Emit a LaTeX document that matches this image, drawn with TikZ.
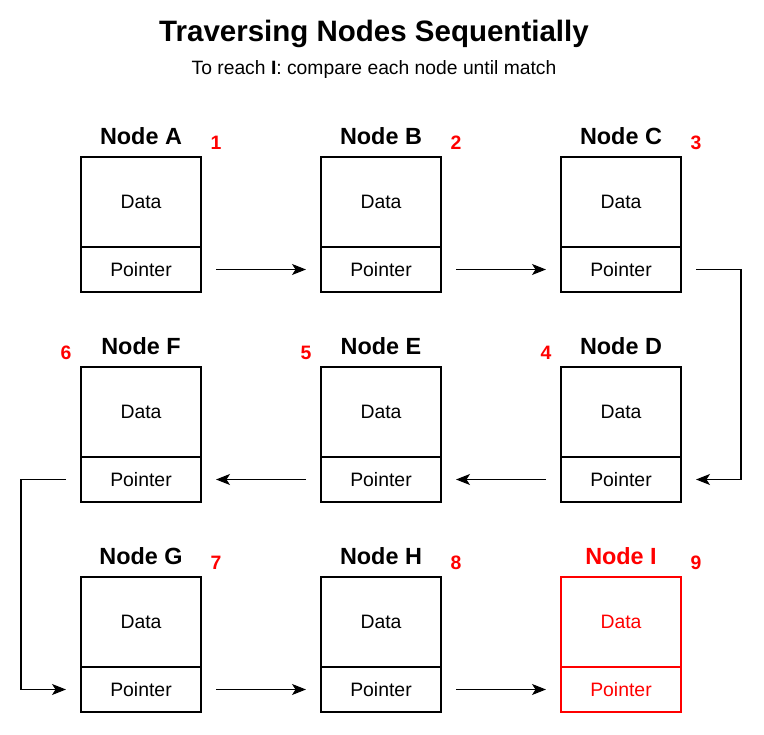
\documentclass[tikz,border=0pt]{standalone}
\usepackage{fontspec}
\setmainfont{Liberation Sans}
\usepackage{tikz}
\usetikzlibrary{arrows.meta}
\usepackage{xcolor}
\begin{document}
	\begin{tikzpicture}[x=1pt,y=-1pt,
		databox/.style={draw=#1,text=#1,line width=1.2pt,minimum width=120pt,minimum height=90pt,inner sep=0pt,outer sep=0pt,font=\fontsize{19.4}{22}\selectfont},
		ptrbox/.style={draw=#1,text=#1,line width=1.2pt,minimum width=120pt,minimum height=45pt,inner sep=0pt,outer sep=0pt,font=\fontsize{19.4}{22}\selectfont},
		nodetitle/.style={text=#1,font=\fontsize{23.4}{26}\selectfont\bfseries},
		stepnum/.style={text=red,font=\fontsize{19.4}{22}\selectfont\bfseries},
		link/.style={line width=1.2pt,-{Stealth[length=14pt,width=11pt,inset=3.5pt]},shorten <=15pt,shorten >=15pt}]
		\useasboundingbox (0,0) rectangle (764,735);
		\node[font=\fontsize{29.5}{34}\selectfont\bfseries] (title) at (374,34) {Traversing Nodes Sequentially};
		\node[font=\fontsize{19.3}{22}\selectfont] (subtitle) at (374,70) {To reach \textbf{I}: compare each node until match};
		\foreach \n/\x/\y/\k/\s/\c in {A/141/157/1/75/black,B/381/157/2/75/black,C/621/157/3/75/black,
			F/141/367/6/-75/black,E/381/367/5/-75/black,D/621/367/4/-75/black,
			G/141/577/7/75/black,H/381/577/8/75/black,I/621/577/9/75/red}
		{
			\node[databox=\c] (d\n) at (\x,\y+45) {\raisebox{-1pt}{Data}};
			\node[ptrbox=\c] (p\n) at (\x,\y+112.5) {\raisebox{-1pt}{Pointer}};
			\node[nodetitle=\c] (t\n) at (\x,\y-21) {Node \n};
			\node[stepnum] (k\n) at (\x+\s,\y-14) {\k};
		}
		\draw[link] (pA.east) -- (pB.west);
		\draw[link] (pB.east) -- (pC.west);
		\draw[link] (pC.east) -- ++(60,0) |- (pD.east);
		\draw[link] (pD.west) -- (pE.east);
		\draw[link] (pE.west) -- (pF.east);
		\draw[link] (pF.west) -- ++(-60,0) |- (pG.west);
		\draw[link] (pG.east) -- (pH.west);
		\draw[link] (pH.east) -- (pI.west);
	\end{tikzpicture}
\end{document}
